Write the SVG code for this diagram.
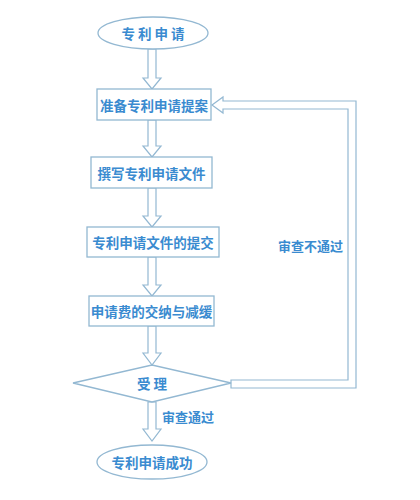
<svg xmlns="http://www.w3.org/2000/svg" width="420" height="500" viewBox="0 0 420 500">
<style>
.shape{fill:#ffffff;stroke:#93b8d2;stroke-width:1.3}
.arrow{fill:#ffffff;stroke:#93b8d2;stroke-width:1.2}
.t{font-family:"Noto Sans CJK SC","Noto Sans",sans-serif;font-size:13.5px;font-weight:bold;fill:#3a8bd0;text-anchor:middle;dominant-baseline:central}
.lbl{font-family:"Noto Sans CJK SC","Noto Sans",sans-serif;font-size:13px;font-weight:bold;fill:#3a8bd0;dominant-baseline:central}
</style>
<rect width="420" height="500" fill="#ffffff"/>
<g id="connectors">
<path class="arrow" d="M148,49 L156,49 L156,78 L161,78 L152,89 L143,78 L148,78 Z"/>
<path class="arrow" d="M148,120 L156,120 L156,146 L161,146 L152,157 L143,146 L148,146 Z"/>
<path class="arrow" d="M148,188 L156,188 L156,216 L161,216 L152,227 L143,216 L148,216 Z"/>
<path class="arrow" d="M148,257 L156,257 L156,285 L161,285 L152,296 L143,285 L148,285 Z"/>
<path class="arrow" d="M148,326 L156,326 L156,353 L161,353 L152,365 L143,353 L148,353 Z"/>
<path class="arrow" d="M148,402 L156,402 L156,429 L161,429 L152,441 L143,429 L148,429 Z"/>
<path class="arrow" d="M231,388 L356,388 L356,101 L223,101 L223,97 L212,105 L223,113 L223,109 L348,109 L348,380 L231,380 Z"/>
<text class="lbl" x="278" y="245">审查不通过</text>
<text class="lbl" x="162" y="416">审查通过</text>
</g>
<g id="start">
<ellipse class="shape" cx="153" cy="33" rx="55" ry="16"/>
<text class="t" x="153" y="33">专 利 申 请</text>
</g>
<g id="step1">
<rect class="shape" x="97" y="89" width="114" height="31"/>
<text class="t" x="154" y="105">准备专利申请提案</text>
</g>
<g id="step2">
<rect class="shape" x="91" y="157" width="121" height="31"/>
<text class="t" x="151.5" y="173">撰写专利申请文件</text>
</g>
<g id="step3">
<rect class="shape" x="87" y="227" width="132" height="30"/>
<text class="t" x="153" y="242">专利申请文件的提交</text>
</g>
<g id="step4">
<rect class="shape" x="89" y="296" width="125" height="30"/>
<text class="t" x="151.5" y="311">申请费的交纳与减缓</text>
</g>
<g id="decision">
<polygon class="shape" points="73,383 152,365 231,383 152,402"/>
<text class="t" x="152" y="383">受 理</text>
</g>
<g id="end">
<ellipse class="shape" cx="152" cy="462" rx="55" ry="17"/>
<text class="t" x="152" y="462">专利申请成功</text>
</g>
</svg>
